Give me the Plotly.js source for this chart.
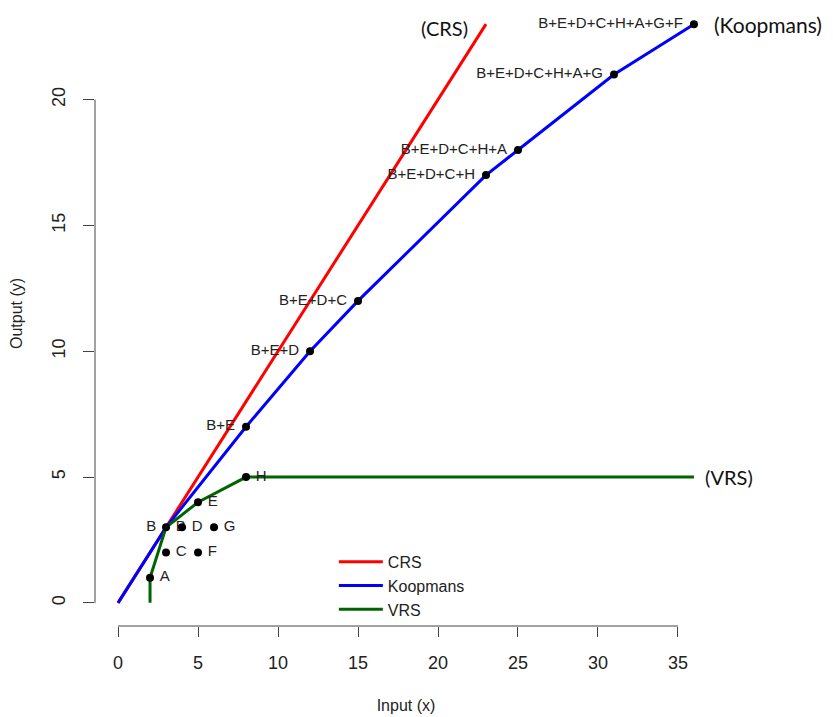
<!DOCTYPE html>
<html>
<head>
<meta charset="utf-8">
<script src="https://cdn.plot.ly/plotly-3.0.1.min.js"></script>
<style>html,body{margin:0;padding:0;background:#fff;}#chart{width:833px;height:717px;}</style>
</head>
<body>
<div id="chart"></div>
<script>
// Single firms
var singleNames = ['A', 'B', 'C', 'D', 'E', 'F', 'G', 'H'];
var singleX = [2, 3, 3, 4, 5, 5, 6, 8];
var singleY = [1, 3, 2, 3, 4, 2, 3, 5];

// Merged firms (Koopmans)
var comboNames = ['B+E', 'B+E+D', 'B+E+D+C', 'B+E+D+C+H', 'B+E+D+C+H+A', 'B+E+D+C+H+A+G', 'B+E+D+C+H+A+G+F'];
var comboX = [8, 12, 15, 23, 25, 31, 36];
var comboY = [7, 10, 12, 17, 18, 21, 23];

// Frontiers
var crsX = [0, 23];
var crsY = [0, 23];
var koopX = [0, 3].concat(comboX);
var koopY = [0, 3].concat(comboY);
var vrsX = [2, 2, 3, 5, 8, 36];
var vrsY = [0, 1, 3, 4, 5, 5];

var xTicks = [0, 5, 10, 15, 20, 25, 30, 35];
var yTicks = [0, 5, 10, 15, 20];

var FAM = 'Liberation Sans, Arial, sans-serif';
var lblFont = {family: FAM, size: 15, color: '#222'};
var tickFont = {family: FAM, size: 18, color: '#222'};
var titleFont = {family: FAM, size: 16, color: '#222'};

var traces = [
  {x: crsX, y: crsY, mode: 'lines', name: 'CRS', line: {color: '#ff0000', width: 3}},
  {x: koopX, y: koopY, mode: 'lines', name: 'Koopmans', line: {color: '#0000ff', width: 3}},
  {x: vrsX, y: vrsY, mode: 'lines', name: 'VRS', line: {color: '#006400', width: 3}},
  // labels (invisible spacer markers keep the text clear of the dots)
  {x: singleX, y: singleY, text: singleNames, mode: 'markers+text', textposition: 'middle right',
   marker: {color: 'rgba(0,0,0,0)', size: 14}, textfont: lblFont, showlegend: false, hoverinfo: 'skip'},
  {x: [singleX[1]], y: [singleY[1]], text: [singleNames[1]], mode: 'markers+text', textposition: 'middle left',
   marker: {color: 'rgba(0,0,0,0)', size: 14}, textfont: lblFont, showlegend: false, hoverinfo: 'skip'},
  {x: comboX, y: comboY, text: comboNames, mode: 'markers+text', textposition: 'middle left',
   marker: {color: 'rgba(0,0,0,0)', size: 16}, textfont: lblFont, showlegend: false, hoverinfo: 'skip', cliponaxis: false},
  // dots
  {x: singleX, y: singleY, mode: 'markers', marker: {color: '#000', size: 8}, showlegend: false},
  {x: comboX, y: comboY, mode: 'markers', marker: {color: '#000', size: 8}, showlegend: false, cliponaxis: false}
];

var noteFont = {family: 'Lato, Open Sans, sans-serif', size: 20, color: '#111'};

var layout = {
  width: 833, height: 717,
  margin: {l: 95, r: 116, t: 1, b: 91},
  paper_bgcolor: '#fff', plot_bgcolor: '#fff',
  font: lblFont,
  showlegend: true,
  legend: {x: 0.384, y: 0.13, xanchor: 'left', yanchor: 'top', bgcolor: 'rgba(0,0,0,0)', itemwidth: 44,
           font: {family: FAM, size: 16, color: '#222'}, tracegroupgap: 0},
  xaxis: {range: [-1.44, 37.44], tickvals: xTicks, ticks: 'outside', ticklen: 10, tickcolor: '#444',
          tickwidth: 1, showgrid: false, zeroline: false, showline: false, ticklabelstandoff: 10,
          tickfont: tickFont, title: {text: 'Input (x)', font: titleFont, standoff: 28}},
  yaxis: {range: [-0.92, 23.92], tickvals: yTicks, ticks: 'outside', ticklen: 11, tickcolor: '#444',
          tickwidth: 1, showgrid: false, zeroline: false, showline: false, tickangle: -90, ticklabelstandoff: 11,
          tickfont: tickFont, title: {text: 'Output (y)', font: titleFont, standoff: 22}},
  shapes: [
    {type: 'line', xref: 'x', yref: 'paper', x0: xTicks[0], x1: xTicks[xTicks.length - 1], y0: 0, y1: 0,
     line: {color: '#444', width: 1}},
    {type: 'line', xref: 'paper', yref: 'y', x0: 0, x1: 0, y0: yTicks[0], y1: yTicks[yTicks.length - 1],
     line: {color: '#444', width: 1}}
  ],
  annotations: [
    {text: '(CRS)', x: crsX[1], y: crsY[1], xref: 'x', yref: 'y', xanchor: 'right', yanchor: 'middle',
     xshift: -16, yshift: -4, showarrow: false, font: noteFont},
    {text: '(Koopmans)', x: comboX[comboX.length - 1], y: comboY[comboY.length - 1], xref: 'x', yref: 'y',
     xanchor: 'left', yanchor: 'middle', xshift: 18, showarrow: false, font: {family: noteFont.family, size: 21, color: '#111'}},
    {text: '(VRS)', x: vrsX[vrsX.length - 1], y: vrsY[vrsY.length - 1], xref: 'x', yref: 'y',
     xanchor: 'left', yanchor: 'middle', xshift: 9, showarrow: false, font: noteFont}
  ]
};

Plotly.newPlot('chart', traces, layout, {displayModeBar: false, staticPlot: true});
</script>
</body>
</html>
